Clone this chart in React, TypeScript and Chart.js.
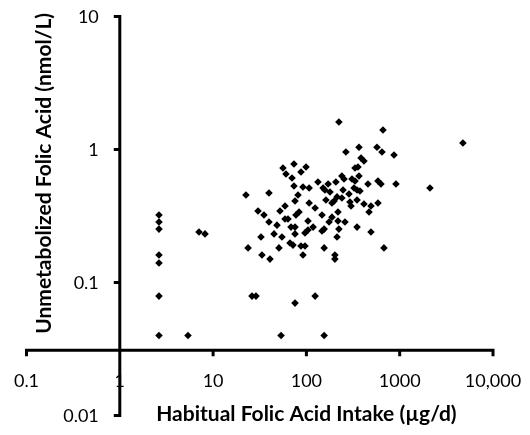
import { useEffect, useRef } from 'react';
import { Chart, registerables } from 'chart.js';

Chart.register(...registerables);

// Habitual folic acid intake (µg/d)
const intake = [
  223, 662, 4760, 265, 366, 571, 646, 869, 385, 414,
  332, 357, 99.1, 56.1, 73.6, 60.4, 70.1, 87.5, 240, 253,
  366, 308, 332, 457, 585, 630, 912, 2110, 133, 171,
  207, 151, 158, 179, 247, 324, 349, 375, 286, 107,
  91.9, 73.6, 22.5, 39.7, 81.3, 75.5, 107, 124, 162, 188,
  198, 213, 240, 293, 301, 349, 414, 492, 469, 585,
  218, 30.3, 35.1, 52.1, 59.0, 59.0, 63.5, 77.3, 83.4, 39.7,
  48.4, 104, 147, 188, 175, 218, 259, 349, 492, 104,
  118, 96.6, 147, 155, 223, 213, 68.4, 75.5, 75.5, 45.0,
  54.7, 32.6, 7.06, 8.19, 23.7, 33.4, 40.7, 50.8, 66.7, 71.8,
  87.5, 96.6, 91.9, 155, 202, 202, 678, 26.1, 28.8, 75.5,
  124, 2.63, 5.38, 53.5, 155, 2.63, 2.63, 2.63, 2.63, 2.63,
  2.63,
];

// Unmetabolized folic acid (nmol/L)
const umfa = [
  1.61, 1.40, 1.12, 0.957, 1.04, 1.04, 0.957, 0.910, 0.863, 0.820,
  0.726, 0.738, 0.738, 0.726, 0.778, 0.654, 0.611, 0.677, 0.632, 0.600,
  0.632, 0.600, 0.579, 0.551, 0.579, 0.551, 0.551, 0.514, 0.570, 0.551,
  0.570, 0.514, 0.496, 0.479, 0.496, 0.514, 0.496, 0.488, 0.463, 0.514,
  0.523, 0.532, 0.455, 0.471, 0.455, 0.410, 0.396, 0.363, 0.417, 0.396,
  0.410, 0.440, 0.432, 0.403, 0.376, 0.417, 0.389, 0.376, 0.339, 0.396,
  0.339, 0.345, 0.322, 0.345, 0.376, 0.300, 0.300, 0.322, 0.339, 0.285,
  0.270, 0.290, 0.322, 0.310, 0.285, 0.290, 0.285, 0.261, 0.240, 0.248,
  0.261, 0.236, 0.244, 0.252, 0.252, 0.220, 0.261, 0.261, 0.232, 0.232,
  0.220, 0.220, 0.240, 0.232, 0.182, 0.161, 0.150, 0.182, 0.198, 0.191,
  0.188, 0.188, 0.161, 0.182, 0.161, 0.150, 0.182, 0.079, 0.079, 0.070,
  0.079, 0.040, 0.040, 0.040, 0.040, 0.322, 0.285, 0.252, 0.161, 0.140,
  0.079,
];

const xTickValues = [0.1, 1, 10, 100, 1000, 10000];
const xTickLabels = ['0.1', '1', '10', '100', '1000', '10,000'];
const yTickValues = [0.01, 0.1, 1, 10];
const yTickLabels = ['0.01', '0.1', '1', '10'];
const xTitle = 'Habitual Folic Acid Intake (µg/d)';
const yTitle = 'Unmetabolized Folic Acid (nmol/L)';
const xAxisCrossesAtY = 0.031;
const yAxisCrossesAtX = 1;

const crossAxesPlugin = {
  id: 'crossAxes',
  beforeDatasetsDraw(chart: any) {
    const ctx = chart.ctx as CanvasRenderingContext2D;
    const xs = chart.scales.x;
    const ys = chart.scales.y;
    const ax = xs.getPixelForValue(yAxisCrossesAtX);
    const ay = ys.getPixelForValue(xAxisCrossesAtY);
    const yTop = ys.getPixelForValue(yTickValues[yTickValues.length - 1]);
    const yBot = ys.getPixelForValue(yTickValues[0]);
    const xLeft = xs.getPixelForValue(xTickValues[0]);
    const xRight = xs.getPixelForValue(xTickValues[xTickValues.length - 1]);

    ctx.save();
    ctx.fillStyle = '#000';
    ctx.font = '18px Lato';
    ctx.textBaseline = 'middle';
    ctx.textAlign = 'center';
    xTickValues.forEach((v, i) => {
      ctx.fillText(xTickLabels[i], xs.getPixelForValue(v), ay + 31);
    });
    ctx.textAlign = 'right';
    yTickValues.forEach((v, i) => {
      ctx.fillText(yTickLabels[i], ax - 21, ys.getPixelForValue(v) + 1);
    });

    ctx.strokeStyle = '#000';
    ctx.lineWidth = 3;
    ctx.lineCap = 'butt';
    ctx.beginPath();
    ctx.moveTo(ax, yTop - 1.5);
    ctx.lineTo(ax, yBot + 1.5);
    ctx.moveTo(xLeft - 1.5, ay);
    ctx.lineTo(xRight + 1.5, ay);
    yTickValues.forEach((v) => {
      const p = ys.getPixelForValue(v);
      ctx.moveTo(ax - 6, p);
      ctx.lineTo(ax, p);
    });
    xTickValues.forEach((v) => {
      const p = xs.getPixelForValue(v);
      ctx.moveTo(p, ay);
      ctx.lineTo(p, ay + 6);
    });
    ctx.stroke();

    ctx.font = 'bold 21px Lato';
    ctx.textAlign = 'center';
    ctx.fillText(xTitle, (ax + xRight) / 2, ay + 64);
    ctx.save();
    ctx.translate(ax - 76, (yTop + ay) / 2 - 10);
    ctx.rotate(-Math.PI / 2);
    ctx.fillText(yTitle, 0, 0);
    ctx.restore();
    ctx.restore();
  },
};

export default function App() {
  const ref = useRef<HTMLCanvasElement | null>(null);
  useEffect(() => {
    if (!ref.current) return;
    const points = intake.map((x, i) => ({ x, y: umfa[i] }));
    const chart = new Chart(ref.current, {
      type: 'scatter',
      data: {
        datasets: [
          {
            data: points,
            pointStyle: 'rectRot',
            pointRadius: 3.8,
            pointBackgroundColor: '#000',
            pointBorderColor: '#000',
            pointBorderWidth: 0,
          },
        ],
      },
      options: {
        responsive: false,
        animation: false,
        layout: { padding: { left: 18.5, right: 29, top: 8.5, bottom: 11.5 } },
        plugins: { legend: { display: false }, tooltip: { enabled: false } },
        scales: {
          x: { type: 'logarithmic', min: 0.1, max: 10000, display: false },
          y: { type: 'logarithmic', min: 0.01, max: 10, display: false },
        },
      },
      plugins: [crossAxesPlugin],
    });
    return () => chart.destroy();
  }, []);
  return (
    <div style={{ width: 514, height: 419 }}>
      <canvas ref={ref} width={514} height={419} />
    </div>
  );
}
